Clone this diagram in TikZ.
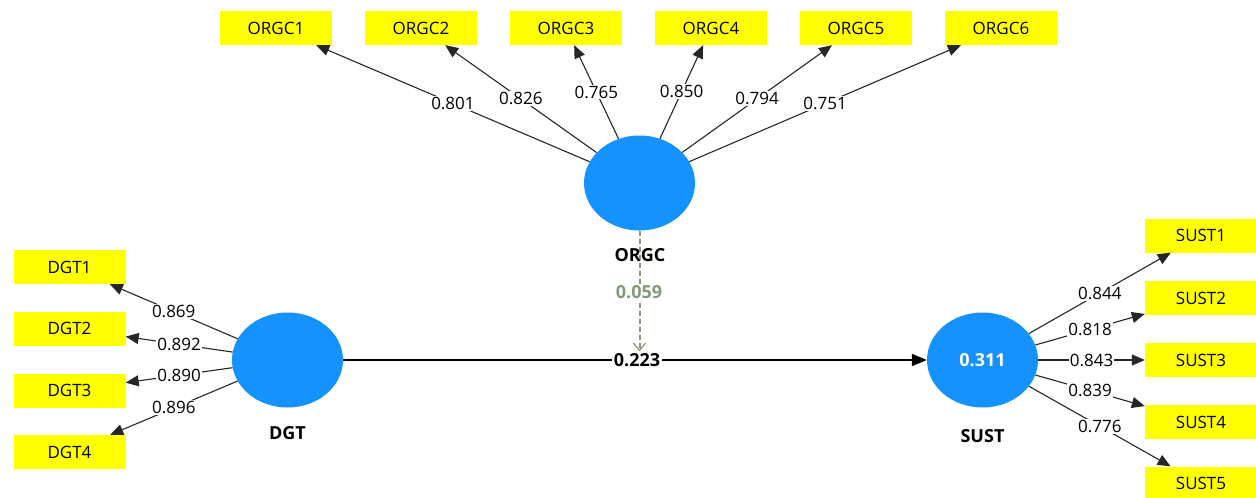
\documentclass[tikz,border=0pt]{standalone}
\usepackage{fontspec}
\setmainfont{Open Sans}
\usetikzlibrary{arrows.meta,shapes.geometric}
\definecolor{itemyellow}{RGB}{255,255,0}
\definecolor{latentblue}{RGB}{22,146,255}
\definecolor{moderator}{RGB}{132,152,124}
\tikzset{
  indicator/.style={fill=itemyellow, minimum width=112pt, minimum height=34pt, inner sep=0pt, font=\fontsize{17}{17}\selectfont},
  latent/.style={ellipse, fill=latentblue, minimum width=111pt, minimum height=95pt, inner sep=0pt},
  latentname/.style={font=\bfseries\fontsize{18}{18}\selectfont},
  loading/.style={draw=black!85, line width=1.1pt, -{Triangle[length=13pt,width=11pt]}},
  loadlabel/.style={fill=white, inner sep=1.2pt, font=\fontsize{17}{17}\selectfont, pos=0.5},
  path/.style={draw=black, line width=2pt, -{Triangle[length=15pt,width=12pt]}},
  modpath/.style={draw=moderator, line width=2pt, dash pattern=on 5pt off 3pt, -{Straight Barb[length=7pt,width=12pt,line width=1.2pt]}}
}
\begin{document}
\begin{tikzpicture}[x=1pt,y=-1pt]
\useasboundingbox[fill=white] (0,0) rectangle (1256,498);

% latent variables
\node[latent] (ORGC) at (639.5,183) {};
\node[latent] (DGT) at (287.5,360) {};
\node[latent] (SUST) at (982.5,360) {\textcolor{white}{\bfseries\fontsize{18}{18}\selectfont 0.311}};

% indicators of ORGC
\node[indicator] (ORGC1) at (276,28) {ORGC1};
\node[indicator] (ORGC2) at (421,28) {ORGC2};
\node[indicator] (ORGC3) at (566,28) {ORGC3};
\node[indicator] (ORGC4) at (711,28) {ORGC4};
\node[indicator] (ORGC5) at (856,28) {ORGC5};
\node[indicator] (ORGC6) at (1001,28) {ORGC6};

% indicators of DGT
\node[indicator] (DGT1) at (69.5,267) {DGT1};
\node[indicator] (DGT2) at (69.5,328.5) {DGT2};
\node[indicator] (DGT3) at (69.5,390.5) {DGT3};
\node[indicator] (DGT4) at (69.5,452) {DGT4};

% indicators of SUST
\node[indicator] (SUST1) at (1201,235.5) {SUST1};
\node[indicator] (SUST2) at (1201,298) {SUST2};
\node[indicator] (SUST3) at (1201,360) {SUST3};
\node[indicator] (SUST4) at (1201,422) {SUST4};
\node[indicator] (SUST5) at (1201,483.5) {SUST5};

% outer loadings
\draw[loading] (ORGC) -- (ORGC1) node[loadlabel] {0.801};
\draw[loading] (ORGC) -- (ORGC2) node[loadlabel] {0.826};
\draw[loading] (ORGC) -- (ORGC3) node[loadlabel] {0.765};
\draw[loading] (ORGC) -- (ORGC4) node[loadlabel] {0.850};
\draw[loading] (ORGC) -- (ORGC5) node[loadlabel] {0.794};
\draw[loading] (ORGC) -- (ORGC6) node[loadlabel] {0.751};

\draw[loading] (DGT) -- (DGT1) node[loadlabel] {0.869};
\draw[loading] (DGT) -- (DGT2) node[loadlabel] {0.892};
\draw[loading] (DGT) -- (DGT3) node[loadlabel] {0.890};
\draw[loading] (DGT) -- (DGT4) node[loadlabel] {0.896};

\draw[loading] (SUST) -- (SUST1) node[loadlabel] {0.844};
\draw[loading] (SUST) -- (SUST2) node[loadlabel] {0.818};
\draw[loading] (SUST) -- (SUST3) node[loadlabel] {0.843};
\draw[loading] (SUST) -- (SUST4) node[loadlabel] {0.839};
\draw[loading] (SUST) -- (SUST5) node[loadlabel] {0.776};

% structural path with its coefficient
\draw[path] (DGT) -- (SUST);
\node[fill=white, inner sep=2pt, font=\bfseries\fontsize{18}{18}\selectfont] (beta) at (637,360) {0.223};

% moderating effect
\draw[modpath] (ORGC) -- (ORGC.south |- beta.north);
\node[fill=white, inner sep=1pt, text=moderator, font=\bfseries\fontsize{18}{18}\selectfont] (gamma) at (639,292) {0.059};

% construct names
\node[latentname] (ORGCname) at (640,255) {ORGC};
\node[latentname] (DGTname) at (287.5,433.5) {DGT};
\node[latentname] (SUSTname) at (982.5,436) {SUST};
\end{tikzpicture}
\end{document}
